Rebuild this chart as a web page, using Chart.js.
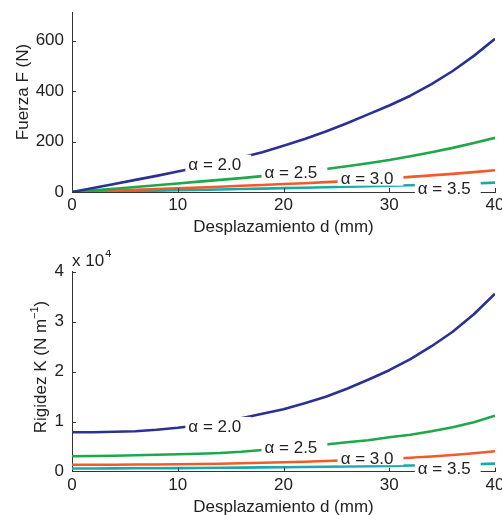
<!DOCTYPE html>
<html><head><meta charset="utf-8">
<script src="https://cdn.jsdelivr.net/npm/chart.js@4.4.1/dist/chart.umd.min.js"></script>
<style>
html,body{margin:0;padding:0;background:#fff;}
#wrap{position:relative;width:502px;height:515px;overflow:hidden;background:#fff;}
.c{position:absolute;left:0;}
</style></head><body>
<div id="wrap">
<canvas id="cF" class="c" style="top:0" width="502" height="250"></canvas>
<canvas id="cK" class="c" style="top:250px" width="502" height="265"></canvas>
</div>
<script>
// ---- data (d in mm) ----
const desplazamiento = [0,2,4,6,8,10,12,14,16,18,20,22,24,26,28,30,32,34,36,38,40];
// Fuerza F (N)
const fuerzaA20 = [0,16,32,48,64,81,98,117,137,158,183,210,240,273,308,343,382,428,480,540,608];
const fuerzaA25 = [0,6.5,13,20,27,34,41,48,55,63,72,81,91,102,114,127,142,158,175,194,215];
const fuerzaA30 = [0,2.9,5.8,8.8,11.8,14.8,18,21,24.5,28,31.5,35,39,43,48,54,60,66,72,79,86];
const fuerzaA35 = [0,1.4,2.8,4.2,5.6,7.1,8.6,10.2,11.8,13.5,15.2,17,19,21,23,25,27,29.3,31.6,34,37];
// Rigidez K (N/m)
const rigidezA20 = [7900,7900,8000,8100,8400,8800,9300,9900,10700,11600,12500,13700,15000,16600,18400,20300,22500,25100,28000,31500,35600];
const rigidezA25 = [3100,3150,3200,3300,3400,3500,3600,3750,4000,4350,4700,5050,5450,5900,6300,6900,7400,8100,8900,9900,11200];
const rigidezA30 = [1400,1400,1400,1450,1450,1500,1550,1600,1700,1800,1900,2000,2150,2300,2450,2600,2800,3050,3350,3700,4100];
const rigidezA35 = [650,650,660,680,700,720,750,780,820,860,900,940,990,1040,1100,1160,1230,1310,1400,1500,1620];
const seriesLabels = ['\u03b1 = 2.0','\u03b1 = 2.5','\u03b1 = 3.0','\u03b1 = 3.5'];
// ticks
const xTicks = [0,10,20,30,40];
const fTicks = [0,200,400,600];
const kTicks = [0,10000,20000,30000,40000];
// in-plot label anchors (data coordinates of label centre)
const labelD = [13.5,20.7,27.9,35.2];
const labelF = [112,79,55,17];
const labelK = [9150,5000,2800,800];

const colors = ['#2b3192','#1fa84a','#f15a29','#17aaa8'];
const FONT = "'Liberation Sans', Arial, Helvetica, sans-serif";
const TXT = '#222';

function mkData(series){
  return {datasets: series.map((s,i)=>({
    label: seriesLabels[i],
    data: desplazamiento.map((d,j)=>({x:d,y:s[j]})),
    borderColor: colors[i], borderWidth: 2.6, pointRadius: 0, tension: 0,
    borderJoinStyle:'round', borderCapStyle:'butt', fill:false
  }))};
}

const decoPlugin = {
  id:'deco',
  afterDraw(chart, args, opts){
    const ctx = chart.ctx, xs = chart.scales.x, ys = chart.scales.y, ca = chart.chartArea;
    ctx.save();
    // inward ticks
    ctx.strokeStyle = '#333'; ctx.lineWidth = 1;
    xTicks.forEach(v=>{ if(v===0) return; const p = Math.round(xs.getPixelForValue(v))+0.5;
      ctx.beginPath(); ctx.moveTo(p, ca.bottom); ctx.lineTo(p, ca.bottom-4); ctx.stroke(); });
    opts.yTicks.forEach(v=>{ if(v===0) return; const p = Math.round(ys.getPixelForValue(v))+0.5;
      ctx.beginPath(); ctx.moveTo(ca.left, p); ctx.lineTo(ca.left+4, p); ctx.stroke(); });
    // curve labels with white background
    ctx.font = '17px ' + FONT; ctx.textBaseline = 'alphabetic'; ctx.textAlign = 'left';
    seriesLabels.forEach((t,i)=>{
      const cx = xs.getPixelForValue(labelD[i]);
      const cy = ys.getPixelForValue(opts.labelY[i]);
      const w = ctx.measureText(t).width;
      const left = cx - w/2, base = cy + 6;
      ctx.fillStyle = '#fff';
      ctx.fillRect(left-3, base-15, w+13, 16.5);
      ctx.fillStyle = TXT;
      ctx.fillText(t, left, base);
    });
    // x title
    ctx.textAlign = 'center';
    ctx.fillText('Desplazamiento d (mm)', (ca.left+ca.right)/2, ca.bottom+40);
    // y title
    opts.yTitle(ctx, chart);
    ctx.restore();
  }
};

function makeChart(id, series, yMax, yTicks, fmt, padTop, xH, labelY, yTitle){
  return new Chart(document.getElementById(id), {
    type:'line',
    data: mkData(series),
    options:{
      responsive:false, animation:false, devicePixelRatio:1,
      layout:{padding:{top:padTop, right:7, left:0, bottom:0}},
      plugins:{legend:{display:false}, tooltip:{enabled:false},
        deco:{yTicks, labelY, yTitle}},
      scales:{
        x:{type:'linear', min:0, max:40,
          afterBuildTicks:s=>{s.ticks = xTicks.map(v=>({value:v}));},
          grid:{display:false, drawTicks:false},
          border:{display:true, color:'#333', width:1},
          ticks:{font:{family:FONT,size:17}, color:TXT, padding:3, maxRotation:0, autoSkip:false},
          afterFit:s=>{s.height = xH; s.paddingLeft = 0; s.paddingRight = 0;}
        },
        y:{type:'linear', min:0, max:yMax,
          afterBuildTicks:s=>{s.ticks = yTicks.map(v=>({value:v}));},
          grid:{display:false, drawTicks:false},
          border:{display:true, color:'#333', width:1},
          ticks:{font:{family:FONT,size:17}, color:TXT, padding:8, callback:fmt},
          afterFit:s=>{s.width = 72; s.paddingTop = 0; s.paddingBottom = 0;}
        }
      }
    },
    plugins:[decoPlugin]
  });
}

makeChart('cF', [fuerzaA20,fuerzaA25,fuerzaA30,fuerzaA35], 714, fTicks, v=>String(v), 12, 58, labelF,
  (ctx, chart)=>{
    ctx.save(); ctx.translate(28, 92); ctx.rotate(-Math.PI/2);
    ctx.font = '17px ' + FONT; ctx.textAlign='center'; ctx.textBaseline='alphabetic'; ctx.fillStyle = TXT;
    ctx.fillText('Fuerza F (N)', 0, 0); ctx.restore();
  });

makeChart('cK', [rigidezA20,rigidezA25,rigidezA30,rigidezA35], 40000, kTicks, v=>String(v/10000), 21.7, 43.3, labelK,
  (ctx, chart)=>{
    ctx.save(); ctx.translate(46, 117); ctx.rotate(-Math.PI/2);
    ctx.fillStyle = TXT; ctx.textBaseline='alphabetic'; ctx.textAlign='left';
    const main = 'Rigidez K (N m', sup = '\u22121', end = ')';
    ctx.font = '17px ' + FONT; const w1 = ctx.measureText(main).width, w3 = ctx.measureText(end).width;
    ctx.font = '11px ' + FONT; const w2 = ctx.measureText(sup).width;
    let x = -(w1+w2+w3)/2;
    ctx.font = '17px ' + FONT; ctx.fillText(main, x, 0); x += w1;
    ctx.font = '11px ' + FONT; ctx.fillText(sup, x, -8); x += w2;
    ctx.font = '17px ' + FONT; ctx.fillText(end, x, 0);
    ctx.restore();
    // x 10^4 multiplier
    ctx.save(); ctx.fillStyle = TXT; ctx.textAlign='left'; ctx.textBaseline='alphabetic';
    ctx.font = '17px ' + FONT; ctx.fillText('x 10', 72, 16);
    const w = ctx.measureText('x 10').width;
    ctx.font = '11px ' + FONT; ctx.fillText('4', 72 + w + 1, 7);
    ctx.restore();
  });
</script>
</body></html>
